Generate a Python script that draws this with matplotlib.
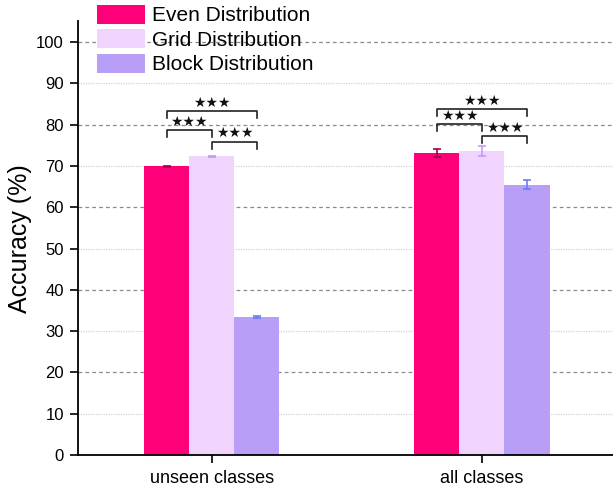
import numpy as np
import matplotlib
matplotlib.use('Agg')
import matplotlib.pyplot as plt

plt.rcParams['font.family'] = ['Liberation Sans', 'DejaVu Sans']

# accuracy per setting (mean and std)
categories = ['unseen classes', 'all classes']
series = ['Even Distribution', 'Grid Distribution', 'Block Distribution']
even_acc = [69.9, 73.1]
grid_acc = [72.3, 73.6]
block_acc = [33.4, 65.5]
even_err = [0.2, 1.0]
grid_err = [0.2, 1.2]
block_err = [0.3, 1.05]

bar_colors = ['#FF0078', '#F0D4FE', '#B89EF6']
err_colors = ['#A0004E', '#C39CF2', '#6A7CF4']

# significance brackets: (category, left bar, right bar, height, label)
sig_pairs = [
    (0, 0, 2, 83.3, '★★★'),
    (0, 0, 1, 78.7, '★★★'),
    (0, 1, 2, 75.9, '★★★'),
    (1, 0, 2, 83.7, '★★★'),
    (1, 0, 1, 80.1, '★★★'),
    (1, 1, 2, 77.3, '★★★'),
]

fig = plt.figure(figsize=(6.13, 4.91), dpi=100)
ax = fig.add_axes([0.127, 0.0733, 0.873, 0.883])

x = np.arange(len(categories))
w = 1 / 6
values = [even_acc, grid_acc, block_acc]
errors = [even_err, grid_err, block_err]

handles = []
for i, (vals, errs) in enumerate(zip(values, errors)):
    pos = x + (i - 1) * w
    b = ax.bar(pos, vals, width=w, color=bar_colors[i], label=series[i], zorder=2)
    handles.append(b)
    ax.errorbar(pos, vals, yerr=errs, fmt='none', ecolor=err_colors[i],
                elinewidth=1.2, capsize=3, capthick=1.2, zorder=3)

# alternating grid lines
for yv in range(10, 101, 10):
    if yv % 20 == 0:
        ax.axhline(yv, color='#8a8a8a', lw=0.9, ls=(0, (3, 2.5)), zorder=1)
    else:
        ax.axhline(yv, color='#d4d4d4', lw=0.9, ls=(0, (1, 1)), zorder=1)

for cat, a, b2, h, lab in sig_pairs:
    x1 = cat + (a - 1) * w
    x2 = cat + (b2 - 1) * w
    ax.plot([x1, x1, x2, x2], [h - 1.7, h, h, h - 1.7], color='#222222', lw=1.2, zorder=4)
    ax.text((x1 + x2) / 2, h + 0.3, lab, ha='center', va='bottom',
            fontsize=10, family='DejaVu Sans', color='#111111', zorder=4)

ax.set_xlim(-0.496, 1.485)
ax.set_ylim(0, 105)
ax.set_yticks(range(0, 101, 10))
ax.set_xticks(x)
ax.set_xticklabels(categories, fontsize=13)
ax.tick_params(axis='y', labelsize=12, length=6, width=1.2, pad=4)
ax.tick_params(axis='x', length=6, width=1.2, pad=5)
ax.set_ylabel('Accuracy (%)', fontsize=18, labelpad=3)

for side in ['top', 'right']:
    ax.spines[side].set_visible(False)
for side in ['left', 'bottom']:
    ax.spines[side].set_linewidth(1.3)

fig.legend(handles=handles, labels=series, loc='upper left',
           bbox_to_anchor=(0.155, 0.995), frameon=False, fontsize=15,
           handlelength=2.3, handleheight=1.05, handletextpad=0.35,
           borderpad=0.1, labelspacing=0.18, borderaxespad=0)

fig.savefig('out.png', dpi=100)
